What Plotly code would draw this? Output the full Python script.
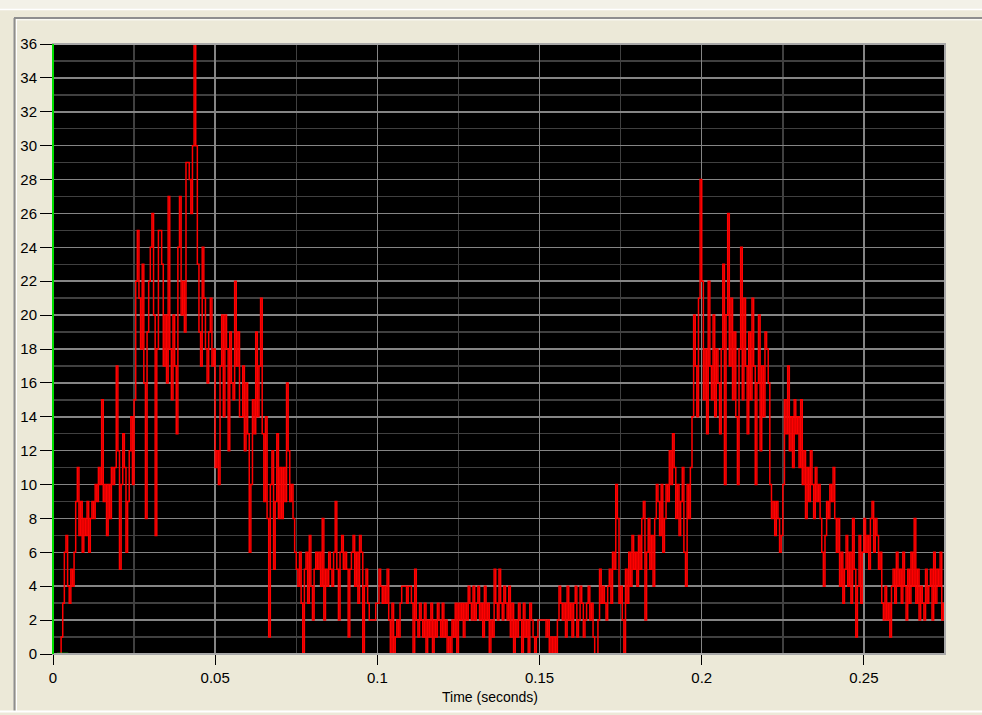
import plotly.graph_objects as go

# ---------------- data ----------------
counts = [
    0, 0, 0, 0, 0, 1, 3, 6, 7, 4,
    3, 5, 4, 6, 9, 11, 7, 9, 6, 8,
    7, 9, 6, 8, 9, 8, 10, 9, 11, 10,
    15, 9, 10, 7, 10, 8, 11, 10, 11, 17,
    12, 5, 10, 13, 11, 6, 9, 12, 14, 10,
    15, 22, 25, 21, 18, 23, 16, 8, 19, 22,
    24, 26, 20, 7, 18, 25, 25, 23, 17, 20,
    16, 27, 18, 15, 20, 17, 13, 24, 27, 20,
    22, 19, 29, 29, 28, 26, 30, 36, 30, 23,
    19, 17, 24, 21, 18, 16, 19, 21, 17, 18,
    11, 12, 10, 17, 20, 14, 20, 18, 12, 19,
    16, 15, 22, 17, 19, 14, 14, 17, 12, 16,
    13, 6, 10, 15, 13, 19, 14, 17, 21, 13,
    9, 14, 8, 1, 10, 12, 5, 9, 13, 8,
    11, 8, 11, 9, 16, 12, 9, 10, 8, 6,
    5, 4, 6, 3, 0, 5, 6, 3, 7, 4,
    2, 5, 6, 5, 6, 4, 8, 2, 5, 4,
    6, 5, 4, 6, 9, 5, 2, 6, 7, 5,
    6, 5, 1, 5, 6, 7, 4, 6, 3, 7,
    6, 0, 4, 5, 3, 2, 2, 2, 2, 3,
    3, 5, 4, 3, 4, 3, 5, 2, 0, 3,
    0, 1, 2, 1, 3, 4, 4, 4, 3, 4,
    4, 3, 0, 5, 2, 1, 3, 2, 1, 3,
    0, 2, 1, 3, 0, 2, 1, 3, 2, 1,
    3, 1, 2, 0, 1, 0, 2, 1, 3, 0,
    3, 2, 3, 1, 3, 2, 4, 3, 2, 4,
    2, 3, 4, 2, 3, 1, 4, 2, 3, 0,
    2, 1, 5, 3, 2, 5, 3, 2, 4, 3,
    2, 4, 1, 3, 0, 2, 1, 3, 2, 0,
    3, 1, 2, 0, 3, 2, 1, 0, 1, 2,
    2, 2, 2, 2, 1, 2, 0, 1, 0, 1,
    0, 2, 4, 3, 2, 3, 1, 4, 2, 3,
    1, 3, 4, 1, 2, 4, 3, 1, 2, 3,
    4, 2, 3, 1, 0, 0, 2, 5, 3, 4,
    3, 2, 4, 5, 3, 6, 5, 10, 8, 3,
    4, 2, 0, 5, 3, 6, 4, 7, 5, 6,
    4, 7, 5, 8, 9, 2, 6, 8, 5, 7,
    4, 8, 10, 9, 7, 10, 6, 8, 10, 9,
    12, 10, 13, 11, 8, 10, 7, 9, 11, 6,
    4, 10, 8, 11, 14, 20, 17, 14, 21, 28,
    22, 15, 18, 13, 22, 17, 15, 20, 14, 18,
    16, 13, 18, 23, 10, 20, 26, 17, 21, 15,
    19, 14, 10, 18, 24, 15, 21, 17, 13, 19,
    15, 21, 17, 10, 16, 20, 12, 17, 14, 19,
    18, 16, 10, 8, 9, 7, 9, 8, 6, 7,
    10, 15, 13, 17, 12, 14, 11, 15, 13, 14,
    11, 15, 10, 12, 8, 11, 9, 12, 10, 8,
    11, 9, 10, 8, 6, 4, 7, 9, 8, 10,
    9, 11, 8, 6, 8, 4, 6, 3, 5, 7,
    4, 6, 3, 8, 5, 1, 4, 7, 3, 6,
    8, 6, 7, 5, 8, 9, 6, 8, 7, 5,
    6, 3, 2, 4, 2, 3, 1, 4, 5, 3,
    6, 4, 5, 3, 6, 4, 2, 5, 3, 6,
    4, 8, 3, 5, 2, 4, 3, 2, 5, 3,
    4, 5, 2, 6, 3, 5, 4, 6, 2, 3, 0,
]
sample_interval_s = 0.0005
time_s = [round(i * sample_interval_s, 4) for i in range(len(counts))]

x_tick_vals = [0, 0.05, 0.1, 0.15, 0.2, 0.25]
x_tick_text = ["0", "0.05", "0.1", "0.15", "0.2", "0.25"]
y_tick_vals = [0, 2, 4, 6, 8, 10, 12, 14, 16, 18, 20, 22, 24, 26, 28, 30, 32, 34, 36]
y_tick_text = [str(v) for v in y_tick_vals]
start_marker_t = [0.0012, 0.0047]
start_marker_v = [0, 0]
x_title = "Time (seconds)"

# ---------------- layout geometry ----------------
W, H = 982, 715
L, R, T, B = 53, 945, 44, 654


def px(x):
    return (x - L) / (R - L)


def py(y):
    return (B - y) / (B - T)


FONT = "Liberation Sans"
BEIGE = "#ECE9D8"

fig = go.Figure()
fig.add_trace(go.Scatter(
    x=time_s, y=counts, mode="lines", line_shape="hv",
    line=dict(color="#FF0000", width=1.5), hoverinfo="skip", showlegend=False,
))
fig.add_trace(go.Scatter(
    x=start_marker_t, y=start_marker_v, mode="lines",
    line=dict(color="#00FF00", width=2.5), hoverinfo="skip", showlegend=False,
))

shapes = [
    # window frame
    dict(type="rect", xref="paper", yref="paper", x0=px(0), x1=px(W), y0=py(0), y1=py(9),
         fillcolor="#F3F1E8", line=dict(width=0), layer="below"),
    dict(type="line", xref="paper", yref="paper", x0=px(0), x1=px(W), y0=py(9.5), y1=py(9.5),
         line=dict(color="#FFFFFF", width=1.5)),
    dict(type="line", xref="paper", yref="paper", x0=px(14), x1=px(W), y0=py(18), y1=py(18),
         line=dict(color="#8E8E8E", width=2)),
    dict(type="line", xref="paper", yref="paper", x0=px(16), x1=px(W), y0=py(19.8), y1=py(19.8),
         line=dict(color="#FFFFFF", width=1)),
    dict(type="line", xref="paper", yref="paper", x0=px(14.5), x1=px(14.5), y0=py(18), y1=py(712),
         line=dict(color="#8E8E8E", width=2)),
    dict(type="line", xref="paper", yref="paper", x0=px(16.5), x1=px(16.5), y0=py(19), y1=py(711),
         line=dict(color="#FFFFFF", width=1)),
    dict(type="line", xref="paper", yref="paper", x0=px(0), x1=px(W), y0=py(711.5), y1=py(711.5),
         line=dict(color="#FFFFFF", width=2)),
    # plot border
    dict(type="rect", xref="paper", yref="paper", x0=0, x1=1, y0=0, y1=1,
         line=dict(color="#A8A8A8", width=2), layer="above"),
    # green y axis line
    dict(type="line", xref="paper", yref="paper", x0=0, x1=0, y0=0, y1=1,
         line=dict(color="#00E000", width=2), layer="above"),
]

fig.update_layout(
    width=W, height=H,
    margin=dict(l=L, r=W - R, t=T, b=H - B, pad=0),
    paper_bgcolor=BEIGE, plot_bgcolor="#000000",
    font=dict(family=FONT, size=15, color="#000000"),
    hovermode=False,
    showlegend=False,
    shapes=shapes,
    annotations=[dict(text=x_title, xref="paper", yref="paper", x=px(490), y=py(697),
                      xanchor="center", yanchor="middle", showarrow=False,
                      font=dict(family=FONT, size=14, color="#000000"))],
    xaxis=dict(
        range=[0, 0.275], tickmode="array", tickvals=x_tick_vals, ticktext=x_tick_text,
        ticks="outside", ticklen=10, tickwidth=1, tickcolor="#000000",
        showgrid=True, gridcolor="#858585", gridwidth=1.5,
        minor=dict(tickmode="linear", tick0=0, dtick=0.025, showgrid=True,
                   gridcolor="#404040", gridwidth=1.5, ticks=""),
        zeroline=False, showline=False, fixedrange=True,
        tickfont=dict(family=FONT, size=15, color="#000000"),
    ),
    yaxis=dict(
        range=[0, 36], tickmode="array", tickvals=y_tick_vals, ticktext=y_tick_text,
        ticks="outside", ticklen=12, tickwidth=1, tickcolor="#000000",
        showgrid=True, gridcolor="#858585", gridwidth=1.5,
        minor=dict(tickmode="linear", tick0=0, dtick=1, showgrid=True,
                   gridcolor="#404040", gridwidth=1.5, ticks=""),
        zeroline=False, showline=False, fixedrange=True,
        tickfont=dict(family=FONT, size=15, color="#000000"),
    ),
)

fig.write_html(
    "out.html",
    config={"displayModeBar": False, "staticPlot": True},
    post_script="document.body.style.margin='0';document.body.style.padding='0';"
                "document.body.style.background='" + BEIGE + "';"
                "document.documentElement.style.overflow='hidden';",
)
